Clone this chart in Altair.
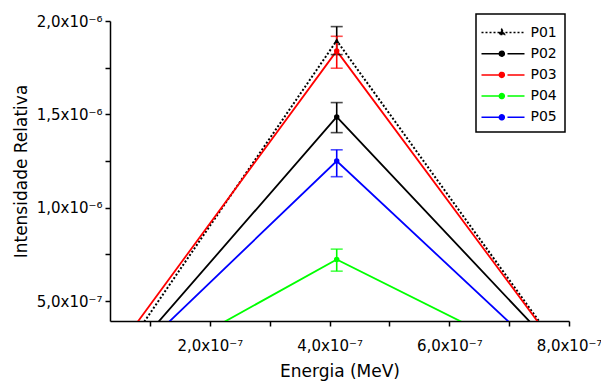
import altair as alt
import pandas as pd

# ---- data ----
series = ["P01", "P02", "P03", "P04", "P05"]
colors = ["#000000", "#000000", "#ff0000", "#00ff00", "#0000ff"]
dashes = [[2, 2], [1, 0], [1, 0], [1, 0], [1, 0]]
peak_x = 4.12e-7
peak_y = [1.895e-6, 1.486e-6, 1.84e-6, 7.23e-7, 1.25e-6]
err_lo = [1.82e-6, 1.402e-6, 1.747e-6, 6.6e-7, 1.166e-6]
err_hi = [1.97e-6, 1.563e-6, 1.918e-6, 7.78e-7, 1.31e-6]
start_x = [7.5e-9, 8.8e-9, -9.5e-9, 6.3e-9, 5.7e-9]
end_x = [8.38e-7, 8.49e-7, 8.38e-7, 8.63e-7, 8.29e-7]
edge_y = [0.0, 0.0, 0.0, 0.0, 0.0]

x_ticks = [1e-7, 2e-7, 3e-7, 4e-7, 5e-7, 6e-7, 7e-7, 8e-7]
x_labels = ["", "2,0x10⁻⁷", "", "4,0x10⁻⁷", "", "6,0x10⁻⁷", "", "8,0x10⁻⁷"]
y_ticks = [5e-7, 7.5e-7, 1e-6, 1.25e-6, 1.5e-6, 1.75e-6, 2e-6]
y_labels = ["5,0x10⁻⁷", "", "1,0x10⁻⁶", "", "1,5x10⁻⁶", "", "2,0x10⁻⁶"]

x_domain = [3.33e-8, 8.0e-7]
y_domain = [3.93e-7, 2.0e-6]

X_TITLE = "Energia (MeV)"
Y_TITLE = "Intensidade Relativa"

# ---- tables ----
rows = []
for i, s in enumerate(series):
    rows.append({"series": s, "x": start_x[i], "y": edge_y[i], "o": 0})
    rows.append({"series": s, "x": peak_x, "y": peak_y[i], "o": 1})
    rows.append({"series": s, "x": end_x[i], "y": edge_y[i], "o": 2})
lines_df = pd.DataFrame(rows)
peaks_df = pd.DataFrame({"series": series, "x": [peak_x] * 5, "y": peak_y,
                         "lo": err_lo, "hi": err_hi})


def label_expr(ticks, labels):
    expr = "''"
    for t, l in reversed(list(zip(ticks, labels))):
        expr = f"abs(datum.value - {t}) < 1e-9 ? '{l}' : ({expr})"
    return expr


FONT = "DejaVu Sans"
xs = alt.Scale(domain=x_domain, nice=False, zero=False)
ys = alt.Scale(domain=y_domain, nice=False, zero=False)
# colour scale for the drawn marks (domain from the data, sorted P01..P05)
cscale = alt.Scale(range=colors)

x_axis = alt.Axis(values=x_ticks, labelExpr=label_expr(x_ticks, x_labels),
                  grid=False, tickSize=5, labelPadding=12, titlePadding=10,
                  labelFontSize=15, titleFontSize=17, labelFlush=False,
                  labelOverlap=False)
y_axis = alt.Axis(values=y_ticks, labelExpr=label_expr(y_ticks, y_labels),
                  grid=False, tickSize=5, labelPadding=3, titlePadding=6,
                  labelFontSize=15, titleFontSize=17, labelFlush=False,
                  labelOverlap=False)
x_enc = alt.X("x:Q", scale=xs, title=X_TITLE, axis=x_axis)
y_enc = alt.Y("y:Q", scale=ys, title=Y_TITLE, axis=y_axis)
c_enc = alt.Color("series:N", scale=cscale, sort=series, legend=None)

base_lines = alt.Chart(lines_df)
line_p01 = base_lines.transform_filter("datum.series == 'P01'").mark_line(
    clip=True, strokeWidth=2, strokeDash=[2, 2]).encode(
    x=x_enc, y=y_enc, color=c_enc, order="o:Q")
line_rest = base_lines.transform_filter("datum.series != 'P01'").mark_line(
    clip=True, strokeWidth=1.8).encode(
    x=x_enc, y=y_enc, color=c_enc, order="o:Q")

errbars = alt.Chart(peaks_df).mark_errorbar(ticks=True, size=12, thickness=1.6).encode(
    x=alt.X("x:Q", scale=xs, title=X_TITLE),
    y=alt.Y("lo:Q", scale=ys, title=Y_TITLE),
    y2="hi:Q",
    color=c_enc)

pts_tri = alt.Chart(peaks_df).transform_filter("datum.series == 'P01'").mark_point(
    filled=True, shape="triangle-up", size=30, opacity=1).encode(
    x=x_enc, y=y_enc, color=c_enc)
pts_dot = alt.Chart(peaks_df).transform_filter("datum.series != 'P01'").mark_point(
    filled=True, shape="circle", size=30, opacity=1).encode(
    x=x_enc, y=y_enc, color=c_enc)

# legend symbols: line sample + marker (unit = 10 px)
dot_path = ("M-1.3,0L0.6,0M1.3,0L3.0,0"
            "M0.48,0A0.25,0.25 0 1,1 0.98,0A0.25,0.25 0 1,1 0.48,0")
tri_path = "M-1.3,0L3.0,0M0.73,-0.32L1.0,0.2L0.46,0.2Z"
leg = alt.Legend(title=None, orient="none", legendX=366, legendY=-7,
                 strokeColor="black", padding=7.5, rowPadding=3.2,
                 labelFont=FONT, labelFontSize=14, labelOffset=25,
                 symbolSize=400, symbolStrokeWidth=1.5, symbolOpacity=1,
                 fillColor="white")
legend_layer = alt.Chart(peaks_df).mark_point(
    filled=True, size=400, strokeWidth=1.5, opacity=0).encode(
    x=x_enc, y=y_enc,
    fill=alt.Fill("series:N", scale=alt.Scale(domain=series, range=colors), legend=leg),
    stroke=alt.Stroke("series:N", scale=alt.Scale(domain=series, range=colors), legend=leg),
    shape=alt.Shape("series:N", scale=alt.Scale(domain=series,
                    range=[tri_path, dot_path, dot_path, dot_path, dot_path]), legend=leg),
    strokeDash=alt.StrokeDash("series:N", scale=alt.Scale(domain=series, range=dashes),
                              legend=leg),
)

chart = alt.layer(line_p01, line_rest, errbars, pts_tri, pts_dot, legend_layer).properties(
    width=459, height=300,
    autosize=alt.AutoSizeParams(type="none"),
    padding={"left": 102, "top": 13, "right": 32, "bottom": 60},
).configure_view(stroke=None).configure_axis(
    domainColor="black", domainWidth=1.5, tickColor="black", tickWidth=1.5,
    labelColor="black", titleColor="black", labelFont=FONT, titleFont=FONT,
    titleFontWeight="normal",
).configure_legend(strokeWidth=1.5)

chart.save("out.html", embed_options={"renderer": "svg", "actions": False})
